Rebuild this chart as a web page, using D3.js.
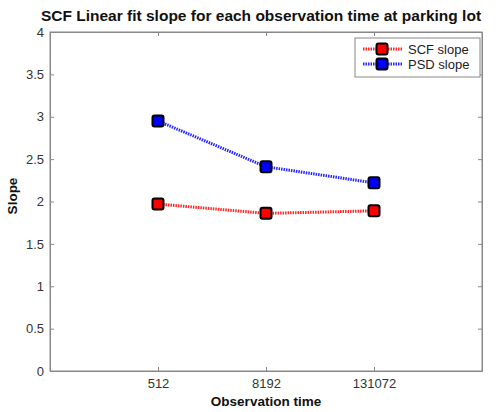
<!DOCTYPE html>
<html><head><meta charset="utf-8">
<script src="https://cdn.jsdelivr.net/npm/d3@7"></script>
<style>body{margin:0;background:#fff;} text{font-family:"Liberation Sans",Arial,sans-serif;}</style>
</head><body>
<script>
const categories = ["512", "8192", "131072"];
const scfSlope = [1.97, 1.86, 1.89];
const psdSlope = [2.95, 2.41, 2.22];
const yTicks = [0, 0.5, 1, 1.5, 2, 2.5, 3, 3.5, 4];
const seriesNames = ["SCF slope", "PSD slope"];
const seriesColors = ["#ff0000", "#0000ff"];

const W = 498, H = 412;
const m = {left: 50, right: 16, top: 32, bottom: 41};
const svg = d3.select("body").append("svg").attr("width", W).attr("height", H);
const x = d3.scaleLinear().domain([0, categories.length + 1]).range([m.left, W - m.right]);
const y = d3.scaleLinear().domain([0, 4]).range([H - m.bottom, m.top]);

// frame
svg.append("rect").attr("x", m.left).attr("y", m.top).attr("width", W - m.right - m.left)
  .attr("height", H - m.bottom - m.top).attr("fill", "none").attr("stroke", "#888").attr("stroke-width", 1);

const xTickVals = categories.map((c, i) => i + 1);
const xAxis = d3.axisBottom(x).tickValues(xTickVals).tickFormat((d) => categories[d - 1]).tickSizeInner(-4).tickSizeOuter(0).tickPadding(8);
const gx = svg.append("g").attr("transform", `translate(0,${H - m.bottom})`).call(xAxis);
const xTop = d3.axisTop(x).tickValues(xTickVals).tickFormat("").tickSizeInner(-4).tickSizeOuter(0);
const gxt = svg.append("g").attr("transform", `translate(0,${m.top})`).call(xTop);
const yAxis = d3.axisLeft(y).tickValues(yTicks).tickFormat(d3.format("")).tickSizeInner(-4).tickSizeOuter(0).tickPadding(6);
const gy = svg.append("g").attr("transform", `translate(${m.left},0)`).call(yAxis);
const yRight = d3.axisRight(y).tickValues(yTicks).tickFormat("").tickSizeInner(-4).tickSizeOuter(0);
const gyr = svg.append("g").attr("transform", `translate(${W - m.right},0)`).call(yRight);
[gx, gxt, gy, gyr].forEach(g => {
  g.select(".domain").attr("stroke", "#888");
  g.selectAll(".tick line").attr("stroke", "#888");
  g.selectAll("text").attr("fill", "#333").style("font-size", "13px").style("font-family", "'Liberation Sans',Arial,sans-serif");
});

// series
const data = [scfSlope, psdSlope];
data.forEach((vals, si) => {
  const line = d3.line().x((d, i) => x(i + 1)).y(d => y(d));
  svg.append("path").datum(vals).attr("d", line).attr("fill", "none")
    .attr("stroke", seriesColors[si]).attr("stroke-width", 3).attr("stroke-dasharray", "1.5,1").attr("opacity", 0.85);
  svg.selectAll(null).data(vals).enter().append("rect")
    .attr("x", (d, i) => x(i + 1) - 5.5).attr("y", d => y(d) - 5.5)
    .attr("width", 11).attr("height", 11).attr("rx", 2)
    .attr("fill", seriesColors[si]).attr("stroke", "#000").attr("stroke-width", 2);
});

// legend
const lg = svg.append("g");
lg.append("rect").attr("x", 355).attr("y", 38).attr("width", 125).attr("height", 39)
  .attr("fill", "#fff").attr("stroke", "#888");
seriesNames.forEach((n, i) => {
  const yy = 49 + i * 15;
  lg.append("line").attr("x1", 363).attr("x2", 402).attr("y1", yy).attr("y2", yy)
    .attr("stroke", seriesColors[i]).attr("stroke-width", 3).attr("stroke-dasharray", "1.5,1").attr("opacity", 0.85);
  lg.append("rect").attr("x", 376.5).attr("y", yy - 5.5).attr("width", 11).attr("height", 11).attr("rx", 2)
    .attr("fill", seriesColors[i]).attr("stroke", "#000").attr("stroke-width", 2);
  lg.append("text").attr("x", 408).attr("y", yy + 4.5).text(n).attr("fill", "#222").style("font-size", "13px");
});

// titles
svg.append("text").attr("x", (m.left + W - m.right) / 2 - 5).attr("y", 21).attr("text-anchor", "middle")
  .style("font-size", "15.5px").style("font-weight", "bold").attr("fill", "#111")
  .text("SCF Linear fit slope for each observation time at parking lot");
svg.append("text").attr("x", (m.left + W - m.right) / 2).attr("y", 406).attr("text-anchor", "middle")
  .style("font-size", "13.5px").style("font-weight", "bold").attr("fill", "#111").text("Observation time");
svg.append("text").attr("transform", `translate(17,196) rotate(-90)`).attr("text-anchor", "middle")
  .style("font-size", "13.5px").style("font-weight", "bold").attr("fill", "#111").text("Slope");
</script>
</body></html>
